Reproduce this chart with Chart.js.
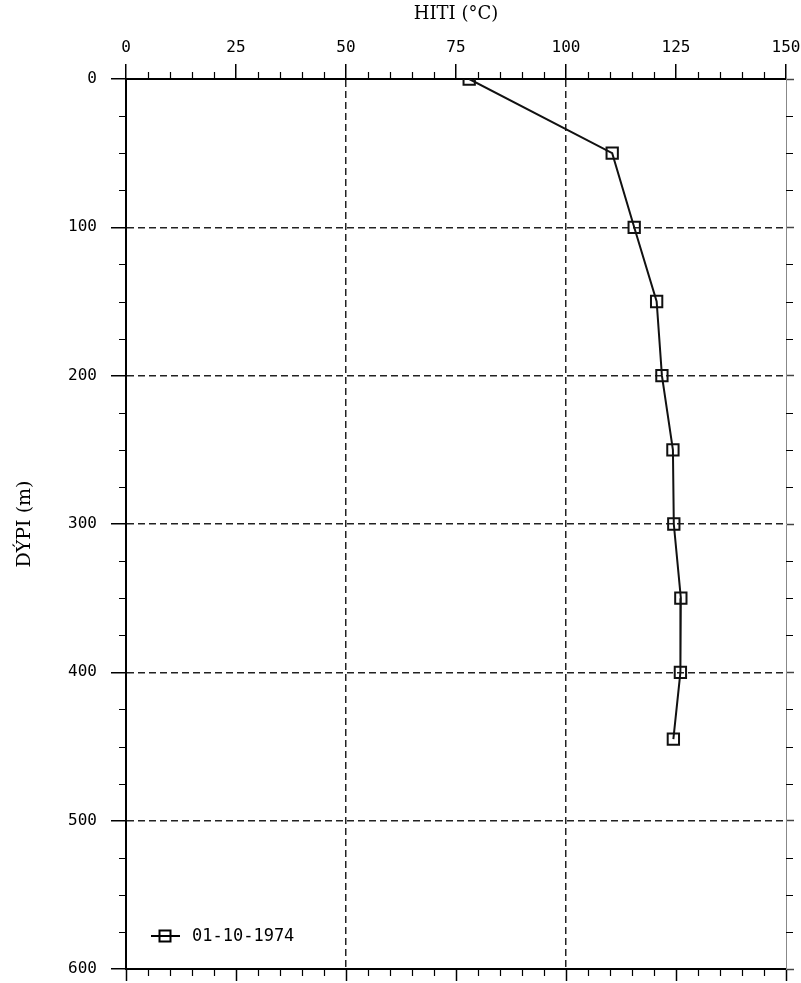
<!DOCTYPE html>
<html>
<head>
<meta charset="utf-8">
<script src="https://cdn.jsdelivr.net/npm/chart.js@4.4.0/dist/chart.umd.min.js"></script>
<style>
  html, body { margin: 0; padding: 0; background: #fff; }
  #wrap { width: 801px; height: 983px; }
</style>
</head>
<body>
<div id="wrap"><canvas id="myChart" width="801" height="983"></canvas></div>
<script>
// Hitamælingar - dýpi og hiti
var depths = [0, 50, 100, 150, 200, 250, 300, 350, 400, 445];
var temps = [78, 110.5, 115.5, 120.6, 121.8, 124.3, 124.5, 126.1, 126.0, 124.4];
var seriesLabel = '01-10-1974';

var xTicks = [0, 25, 50, 75, 100, 125, 150];
var yTicks = [0, 100, 200, 300, 400, 500, 600];
var xGridAt = [50, 100];
var yGridAt = [100, 200, 300, 400, 500];

var tickFont = { family: 'DejaVu Sans Mono', size: 16 };
var titleFont = { family: 'DejaVu Serif', size: 18 };

var points = depths.map(function (d, i) { return { x: temps[i], y: d }; });

function gridColor(list) {
  return function (c) {
    return (c.tick && list.indexOf(c.tick.value) >= 0) ? '#222' : 'transparent';
  };
}

function noEdgePadding(s) {
  s.paddingLeft = 0;
  s.paddingRight = 0;
  s.paddingTop = 0;
  s.paddingBottom = 0;
}

// litlu strikin á milli aðalstrikanna
var minorTicks = {
  id: 'minorTicks',
  afterDraw: function (chart) {
    var ctx = chart.ctx;
    var a = chart.chartArea;
    ctx.save();
    ctx.strokeStyle = '#000';
    ctx.lineWidth = 1.2;
    ctx.beginPath();
    var v, p;
    for (v = 0; v <= 150; v += 5) {
      if (v % 25 === 0) continue;
      p = Math.round(chart.scales.x.getPixelForValue(v)) + 0.5;
      ctx.moveTo(p, a.top); ctx.lineTo(p, a.top - 7);
      ctx.moveTo(p, a.bottom); ctx.lineTo(p, a.bottom + 7);
    }
    for (v = 0; v <= 600; v += 25) {
      if (v % 100 === 0) continue;
      p = Math.round(chart.scales.y.getPixelForValue(v)) + 0.5;
      ctx.moveTo(a.left, p); ctx.lineTo(a.left - 7, p);
      ctx.moveTo(a.right, p); ctx.lineTo(a.right + 7, p);
    }
    ctx.stroke();

    // skýringin niðri til vinstri
    var ly = a.bottom - 33;
    var lx = a.left + 25;
    ctx.lineWidth = 2;
    ctx.beginPath();
    ctx.moveTo(lx, ly); ctx.lineTo(lx + 29, ly);
    ctx.stroke();
    ctx.strokeRect(lx + 14 - 5.5, ly - 5.5, 11, 11);
    ctx.fillStyle = '#000';
    ctx.font = '17px "DejaVu Sans Mono"';
    ctx.textBaseline = 'middle';
    ctx.fillText(chart.data.datasets[0].label, lx + 41, ly + 1);
    ctx.restore();
  }
};

var ctx = document.getElementById('myChart').getContext('2d');
var myChart = new Chart(ctx, {
  type: 'scatter',
  data: {
    datasets: [{
      label: seriesLabel,
      data: points,
      showLine: true,
      borderColor: '#111',
      borderWidth: 2,
      pointStyle: 'rect',
      pointRadius: 8,
      pointBorderWidth: 2,
      pointBorderColor: '#111',
      pointBackgroundColor: 'transparent'
    }]
  },
  plugins: [minorTicks],
  options: {
    responsive: false,
    animation: false,
    layout: { padding: 0 },
    plugins: {
      legend: { display: false },
      tooltip: { enabled: false }
    },
    scales: {
      x: {
        type: 'linear',
        position: 'top',
        min: 0,
        max: 150,
        afterBuildTicks: function (s) { s.ticks = xTicks.map(function (v) { return { value: v }; }); },
        afterFit: function (s) { s.height = 79; noEdgePadding(s); },
        ticks: { font: tickFont, color: '#000', padding: 7 },
        grid: { color: gridColor(xGridAt), lineWidth: 1.5, tickColor: '#000', tickWidth: 1.5, tickLength: 15 },
        border: { display: true, color: '#000', width: 2, dash: [7, 4] },
        title: { display: true, text: 'HITI (°C)', font: titleFont, color: '#000', padding: { top: 4, bottom: 0 } }
      },
      x2: {
        type: 'linear',
        position: 'bottom',
        min: 0,
        max: 150,
        afterBuildTicks: function (s) { s.ticks = xTicks.map(function (v) { return { value: v }; }); },
        afterFit: function (s) { s.height = 14; noEdgePadding(s); },
        ticks: { display: false },
        grid: { drawOnChartArea: false, tickColor: '#000', tickWidth: 1.5, tickLength: 12 },
        border: { display: true, color: '#000', width: 2 }
      },
      y: {
        type: 'linear',
        position: 'left',
        reverse: true,
        min: 0,
        max: 600,
        afterBuildTicks: function (s) { s.ticks = yTicks.map(function (v) { return { value: v }; }); },
        afterFit: function (s) { s.width = 126; noEdgePadding(s); },
        ticks: { font: tickFont, color: '#000', padding: 14 },
        grid: { color: gridColor(yGridAt), lineWidth: 1.5, tickColor: '#000', tickWidth: 1.5, tickLength: 15 },
        border: { display: true, color: '#000', width: 2, dash: [7, 4] },
        title: { display: true, text: 'DÝPI (m)', font: { family: 'DejaVu Serif', size: 19 }, color: '#000', padding: { top: 14, bottom: 0 } }
      },
      y2: {
        type: 'linear',
        position: 'right',
        reverse: true,
        min: 0,
        max: 600,
        afterBuildTicks: function (s) { s.ticks = yTicks.map(function (v) { return { value: v }; }); },
        afterFit: function (s) { s.width = 15; noEdgePadding(s); },
        ticks: { display: false },
        grid: { drawOnChartArea: false, tickColor: '#444', tickWidth: 1.5, tickLength: 8 },
        border: { display: true, color: '#888', width: 1 }
      }
    }
  }
});
</script>
</body>
</html>
